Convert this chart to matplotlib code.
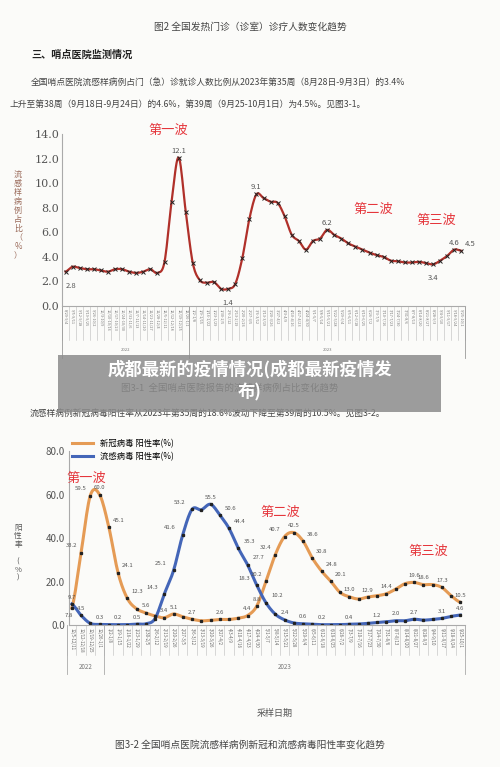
import numpy as np
import matplotlib
matplotlib.use("Agg")
import matplotlib.pyplot as plt
import datetime as dt

plt.rcParams['font.family'] = ['Noto Sans CJK SC', 'DejaVu Sans']

# ---- data chart 1 ----
ili = [2.8,3.2,3.1,3.0,3.0,2.9,2.8,3.0,3.0,2.8,2.7,2.8,3.0,2.7,3.6,8.5,12.1,7.7,3.5,2.1,
       1.9,1.95,1.4,1.4,1.8,3.9,7.1,9.1,8.8,8.5,8.4,7.3,5.8,5.3,4.6,5.3,5.5,6.2,5.8,5.5,
       5.1,4.85,4.6,4.35,4.15,4.0,3.7,3.65,3.55,3.55,3.6,3.5,3.4,3.7,4.1,4.6,4.5]
ili_start = dt.date(2022, 8, 29)
ili_labels = []
for i in range(len(ili)):
    a = ili_start + dt.timedelta(days=7*i); b = a + dt.timedelta(days=6)
    ili_labels.append(f"{a.month}/{a.day}-{b.month}/{b.day}")
ili_annot = {0: "2.8", 16: "12.1", 23: "1.4", 27: "9.1", 37: "6.2", 52: "3.4", 55: "4.6", 56: "4.5"}

# ---- data chart 2 ----
wk_labels = ["12/5-12/11","12/12-12/18","12/19-12/25","12/26-1/1","1/2-1/8","1/9-1/15","1/16-1/22",
             "1/23-1/29","1/30-2/5","2/6-2/12","2/13-2/19","2/20-2/26","2/27-3/5","3/6-3/12","3/13-3/19",
             "3/20-3/26","3/27-4/2","4/3-4/9","4/10-4/16","4/17-4/23","4/24-4/30","5/1-5/7","5/8-5/14",
             "5/15-5/21","5/22-5/28","5/29-6/4","6/5-6/11","6/12-6/18","6/19-6/25","6/26-7/2","7/3-7/9",
             "7/10-7/16","7/17-7/23","7/24-7/30","7/31-8/6","8/7-8/13","8/14-8/20","8/21-8/27","8/28-9/3",
             "9/4-9/10","9/11-9/17","9/18-9/24","9/25-10/1"]
covid = [7.8,33.2,59.5,60.0,45.1,24.1,12.3,7.5,5.6,4.2,3.4,5.1,3.8,2.7,2.0,2.2,2.6,2.6,3.2,4.4,
         8.8,20.2,32.4,40.7,42.5,38.6,30.8,24.8,20.1,15.0,13.0,12.0,12.9,13.5,14.4,16.5,19.0,19.6,
         18.6,18.6,17.3,13.5,10.5]
flu = [9.7,4.5,0.8,0.3,0.2,0.2,0.2,0.5,0.6,3.0,14.3,25.1,41.6,53.2,53.0,55.5,50.6,44.4,35.3,27.7,
       18.3,10.2,5.0,2.4,1.0,0.6,0.4,0.2,0.2,0.2,0.4,0.5,0.8,1.2,1.5,2.0,2.0,2.7,2.3,2.6,3.1,4.0,4.6]
covid_annot = {0:"7.8",1:"33.2",2:"59.5",3:"60.0",4:"45.1",5:"24.1",6:"12.3",8:"5.6",10:"3.4",11:"5.1",
               13:"2.7",16:"2.6",19:"4.4",20:"8.8",21:"20.2",22:"32.4",23:"40.7",24:"42.5",25:"38.6",
               26:"30.8",27:"24.8",28:"20.1",30:"13.0",32:"12.9",34:"14.4",37:"19.6",38:"18.6",40:"17.3",42:"10.5"}
flu_annot = {0:"9.7",1:"4.5",3:"0.3",5:"0.2",7:"0.5",10:"14.3",11:"25.1",12:"41.6",13:"53.2",15:"55.5",
             16:"50.6",17:"44.4",18:"35.3",19:"27.7",20:"18.3",21:"10.2",23:"2.4",25:"0.6",27:"0.2",
             30:"0.4",33:"1.2",35:"2.0",37:"2.7",40:"3.1",42:"4.6"}

def smooth(y, n=10):
    y = np.asarray(y, float); x = np.arange(len(y))
    p = np.concatenate([[y[0]], y, [y[-1]]])
    xs, ys = [], []
    for i in range(len(y)-1):
        p0, p1, p2, p3 = p[i], p[i+1], p[i+2], p[i+3]
        t = np.linspace(0, 1, n, endpoint=False)
        ys.append(0.5*((2*p1)+(-p0+p2)*t+(2*p0-5*p1+4*p2-p3)*t**2+(-p0+3*p1-3*p2+p3)*t**3))
        xs.append(x[i]+t)
    xs.append([x[-1]]); ys.append([y[-1]])
    return np.concatenate(xs), np.concatenate(ys)

BG = "#fbfbf9"
fig = plt.figure(figsize=(5, 7.67), dpi=100, facecolor=BG)
TXT = "#444444"
fig.text(0.5, 1-27/767, "图2 全国发热门诊（诊室）诊疗人数变化趋势", ha="center", va="center", fontsize=7, color=TXT)
fig.text(0.062, 1-55/767, "三、哨点医院监测情况", ha="left", va="center", fontsize=7.3, color="#222222", weight="bold")
fig.text(0.062, 1-82/767, "全国哨点医院流感样病例占门（急）诊就诊人数比例从2023年第35周（8月28日-9月3日）的3.4%",
         ha="left", va="center", fontsize=6.3, color=TXT)
fig.text(0.02, 1-104/767, "上升至第38周（9月18日-9月24日）的4.6%，第39周（9月25-10月1日）为4.5%。见图3-1。",
         ha="left", va="center", fontsize=6.3, color=TXT)

RED = "#e5363c"
# ---- chart 1 ----
ax1 = fig.add_axes([0.124, 0.601, 0.806, 0.224], facecolor=BG)
x1 = np.arange(len(ili))
sx, sy = smooth(ili)
ax1.plot(sx, sy, color="#b0302a", lw=1.6)
ax1.plot(x1, ili, ls="none", marker="x", ms=2.5, mew=0.7, color="#222222")
ax1.set_xlim(-0.5, len(ili)-0.5); ax1.set_ylim(0, 14)
ax1.set_yticks(np.arange(0, 14.1, 2.0))
ax1.set_yticklabels([f"{v:.1f}" for v in np.arange(0, 14.1, 2.0)], family="DejaVu Serif", fontsize=8, color="#555555")
ax1.set_xticks(x1); ax1.set_xticklabels(ili_labels, rotation=-90, fontsize=2.8, color="#777777")
ax1.tick_params(axis="x", length=0, pad=2); ax1.tick_params(axis="y", length=0, pad=2)
for s in ["top", "right"]: ax1.spines[s].set_visible(False)
ax1.spines["left"].set_color("#aaaaaa"); ax1.spines["bottom"].set_color("#aaaaaa")
tr = ax1.get_xaxis_transform()
for i in range(len(ili)+1):
    ax1.plot([i-0.5, i-0.5], [0, -0.2], transform=tr, color="#bbbbbb", lw=0.4, clip_on=False)
for xv in [-0.5, 17.5, 56.5]:
    ax1.plot([xv, xv], [0, -0.3], transform=tr, color="#999999", lw=0.6, clip_on=False)
ax1.text(8.5, -0.26, "2022", transform=tr, fontsize=3, ha="center", color="#777777")
ax1.text(37, -0.26, "2023", transform=tr, fontsize=3, ha="center", color="#777777")
for i, s in ili_annot.items():
    dy = -10 if i in (0, 23, 52) else 5
    dx = 6 if i == 56 else (4 if i == 0 else 0)
    ax1.annotate(s, (i, ili[i]), xytext=(dx, dy), textcoords="offset points", fontsize=5.5,
                 ha="center", va="center", color="#555555")
ax1.text(14.5, 14.3, "第一波", fontsize=9.5, color=RED, ha="center", va="center")
ax1.text(43.5, 7.9, "第二波", fontsize=9.5, color=RED, ha="center", va="center")
ax1.text(52.5, 7.0, "第三波", fontsize=9.5, color=RED, ha="center", va="center")
fig.text(0.036, 1-215/767, "流\n感\n样\n病\n例\n占\n比\n（\n%\n）", fontsize=5.8, color="#9a6a5a",
         ha="center", va="center", linespacing=1.0)

# ---- chart 2 ----
ax2 = fig.add_axes([0.138, 0.185, 0.792, 0.227], facecolor=BG)
x2 = np.arange(len(covid))
ORG = "#e59b55"; BLU = "#4466b8"
sx, sy = smooth(covid); ax2.plot(sx, sy, color=ORG, lw=2.2, label="新冠病毒 阳性率(%)")
sx, sy = smooth(flu); ax2.plot(sx, np.maximum(sy, 0), color=BLU, lw=2.2, label="流感病毒 阳性率(%)")
ax2.plot(x2, covid, ls="none", marker="s", ms=1.4, color="#222222")
ax2.plot(x2, flu, ls="none", marker="s", ms=1.4, color="#222222")
ax2.set_xlim(-0.3, len(covid)-0.5); ax2.set_ylim(0, 80)
ax2.set_yticks([0, 20, 40, 60, 80])
ax2.set_yticklabels(["0.0", "20.0", "40.0", "60.0", "80.0"], fontsize=7, color="#555555")
ax2.set_xticks(x2); ax2.set_xticklabels(wk_labels, rotation=-90, fontsize=3.2, color="#666666")
ax2.tick_params(axis="x", length=0, pad=2); ax2.tick_params(axis="y", length=0, pad=3)
for s in ["top", "right"]: ax2.spines[s].set_visible(False)
ax2.spines["left"].set_color("#aaaaaa"); ax2.spines["bottom"].set_color("#aaaaaa")
tr2 = ax2.get_xaxis_transform()
for i in range(len(covid)+1):
    ax2.plot([i-0.5, i-0.5], [0, -0.17], transform=tr2, color="#bbbbbb", lw=0.4, clip_on=False)
for xv in [-0.5, 3.5, 42.5]:
    ax2.plot([xv, xv], [0, -0.28], transform=tr2, color="#aaaaaa", lw=0.6, clip_on=False)
ax2.text(1.5, -0.25, "2022", transform=tr2, fontsize=4.5, ha="center", color="#777777")
ax2.text(23, -0.25, "2023", transform=tr2, fontsize=4.5, ha="center", color="#777777")
for i, s in covid_annot.items():
    dy = 5; dx = 0
    if i in (0,): dy = -5; dx = -2
    if i in (1, 2, 21, 22, 23): dx = -7
    if i in (4, 5, 6, 25, 26, 27, 28): dx = 7
    ax2.annotate(s, (i, covid[i]), xytext=(dx, dy), textcoords="offset points", fontsize=4.3,
                 ha="center", va="center", color="#555555")
for i, s in flu_annot.items():
    dy = 5; dx = 0
    if i in (10, 11, 12, 13, 20): dx = -9
    if i in (16, 17, 18, 19, 21): dx = 8
    ax2.annotate(s, (i, flu[i]), xytext=(dx, dy), textcoords="offset points", fontsize=4.3,
                 ha="center", va="center", color="#555555")
ax2.legend(loc="upper left", bbox_to_anchor=(0.0, 1.09), frameon=False, fontsize=6, handlelength=2.5,
           labelspacing=0.5, borderaxespad=0)
ax2.text(1.6, 67.5, "第一波", fontsize=9.5, color=RED, ha="center", va="center")
ax2.text(22.5, 52, "第二波", fontsize=9.5, color=RED, ha="center", va="center")
ax2.text(38.5, 34, "第三波", fontsize=9.5, color=RED, ha="center", va="center")
fig.text(0.036, 1-553/767, "阳\n性\n率\n\n(\n%\n)", fontsize=5.5, color="#555555", ha="center", va="center",
         linespacing=1.05)
fig.text(0.55, 1-713/767, "采样日期", fontsize=6.5, color="#555555", ha="center", va="center")
fig.text(0.5, 1-745/767, "图3-2 全国哨点医院流感样病例新冠和流感病毒阳性率变化趋势", fontsize=7, color=TXT,
         ha="center", va="center")
fig.text(0.46, 1-388/767, "图3-1  全国哨点医院报告的流感样病例占比变化趋势", fontsize=6.8, color=TXT, ha="center", va="center")
fig.text(0.06, 1-414/767, "流感样病例新冠病毒阳性率从2023年第35周的18.6%波动下降至第39周的10.5%。见图3-2。",
         fontsize=6.3, color=TXT, ha="left", va="center")

# watermark overlay
fig.patches.append(plt.Rectangle((58/500, 1-412/767), 383/500, 57/767, transform=fig.transFigure,
                                 facecolor="#8c8c8c", alpha=0.85, edgecolor="none", zorder=10))
fig.text(0.5, 1-369/767, "成都最新的疫情情况(成都最新疫情发", fontsize=12.5, color="white", weight="bold",
         ha="center", va="center", zorder=11)
fig.text(0.5, 1-392/767, "布)", fontsize=12.5, color="white", weight="bold", ha="center", va="center", zorder=11)

fig.savefig("out.png", dpi=100, facecolor=BG)
